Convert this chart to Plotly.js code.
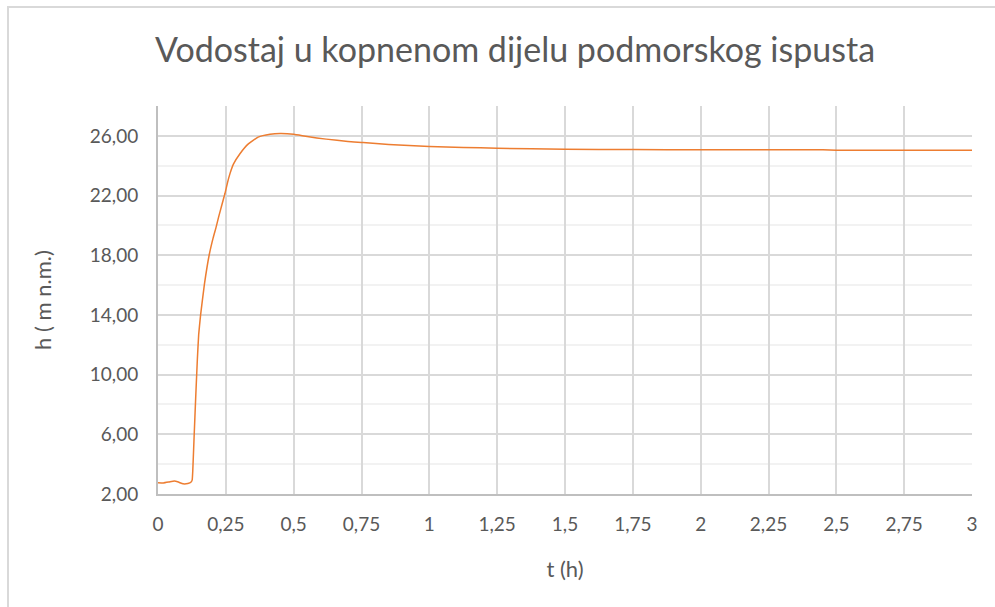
<!DOCTYPE html>
<html>
<head>
<meta charset="utf-8">
<script src="https://cdn.plot.ly/plotly-3.0.1.min.js"></script>
<style>
  html, body { margin: 0; padding: 0; background: #ffffff; }
  #frame { position: absolute; left: 7px; top: 6px; width: 1000px; height: 620px;
           border-left: 2px solid #d9d9d9; border-top: 2px solid #d9d9d9; }
  #chart { position: absolute; left: 0; top: 0; width: 995px; height: 607px; }
</style>
</head>
<body>
<div id="frame"></div>
<div id="chart"></div>
<script>
// time (h)
const tValues = [0, 0.02, 0.04, 0.06, 0.075, 0.092, 0.11, 0.122, 0.126, 0.128, 0.133, 0.139, 0.145, 0.150, 0.157, 0.171, 0.189, 0.203, 0.213, 0.224, 0.235, 0.247, 0.256, 0.265, 0.278, 0.302, 0.333, 0.369, 0.413, 0.45, 0.5, 0.55, 0.62, 0.7, 0.756, 0.85, 1.0, 1.125, 1.25, 1.5, 1.75, 2.0, 2.25, 2.45, 2.5, 2.75, 3.0];
// water level h (m n.m.)
const hValues = [2.76, 2.74, 2.80, 2.87, 2.80, 2.68, 2.70, 2.80, 2.95, 3.5, 5.8, 8.5, 11.0, 12.7, 14.0, 16.05, 18.05, 19.15, 19.8, 20.6, 21.35, 22.15, 22.85, 23.45, 24.1, 24.8, 25.46, 25.91, 26.1, 26.15, 26.1, 25.95, 25.78, 25.62, 25.55, 25.42, 25.28, 25.22, 25.17, 25.10, 25.08, 25.07, 25.07, 25.06, 25.04, 25.04, 25.03];

const xTickVals = [0, 0.25, 0.5, 0.75, 1, 1.25, 1.5, 1.75, 2, 2.25, 2.5, 2.75, 3];
const xTickText = ["0", "0,25", "0,5", "0,75", "1", "1,25", "1,5", "1,75", "2", "2,25", "2,5", "2,75", "3"];
const yTickVals = [2, 6, 10, 14, 18, 22, 26];
const yTickText = ["2,00", "6,00", "10,00", "14,00", "18,00", "22,00", "26,00"];

const chartTitle = "Vodostaj u kopnenom dijelu podmorskog ispusta";
const xTitle = "t (h)";
const yTitle = "h ( m n.m.)";

const FONT = "Lato, 'Open Sans', sans-serif";
const GREY = "#595959";

const trace = {
  x: tValues,
  y: hValues,
  type: "scatter",
  mode: "lines",
  line: { color: "#ED7D31", width: 1.5, shape: "spline", smoothing: 0.4 },
  hoverinfo: "x+y"
};

const layout = {
  width: 995,
  height: 607,
  margin: { l: 158, r: 23, t: 106, b: 113 },
  paper_bgcolor: "rgba(0,0,0,0)",
  plot_bgcolor: "#ffffff",
  showlegend: false,
  font: { family: FONT, color: GREY, size: 19 },
  title: {
    text: chartTitle,
    font: { family: FONT, size: 34, color: GREY },
    x: 0.5176, xanchor: "center", xref: "container",
    y: 0.918, yanchor: "middle", yref: "container"
  },
  xaxis: {
    range: [0, 3],
    tickmode: "array",
    tickvals: xTickVals,
    ticktext: xTickText,
    ticks: "",
    ticklabelstandoff: 12,
    showgrid: true,
    gridcolor: "#d9d9d9",
    gridwidth: 2,
    showline: true,
    linecolor: "#bfbfbf",
    linewidth: 2,
    zeroline: false,
    tickfont: { family: FONT, size: 19, color: GREY },
    title: { text: xTitle, font: { family: FONT, size: 22, color: GREY }, standoff: 28 }
  },
  yaxis: {
    range: [2, 28],
    tickmode: "array",
    tickvals: yTickVals,
    ticktext: yTickText,
    ticks: "",
    ticklabelstandoff: 14,
    showgrid: true,
    gridcolor: "#d9d9d9",
    gridwidth: 2,
    minor: { tickmode: "linear", tick0: 0, dtick: 2, showgrid: true, gridcolor: "#f2f2f2", gridwidth: 2, ticks: "" },
    showline: true,
    linecolor: "#bfbfbf",
    linewidth: 2,
    zeroline: false,
    tickfont: { family: FONT, size: 19, color: GREY },
    title: { text: yTitle, font: { family: FONT, size: 22, color: GREY }, standoff: 32 }
  }
};

Plotly.newPlot("chart", [trace], layout, { displayModeBar: false, staticPlot: true });
</script>
</body>
</html>
